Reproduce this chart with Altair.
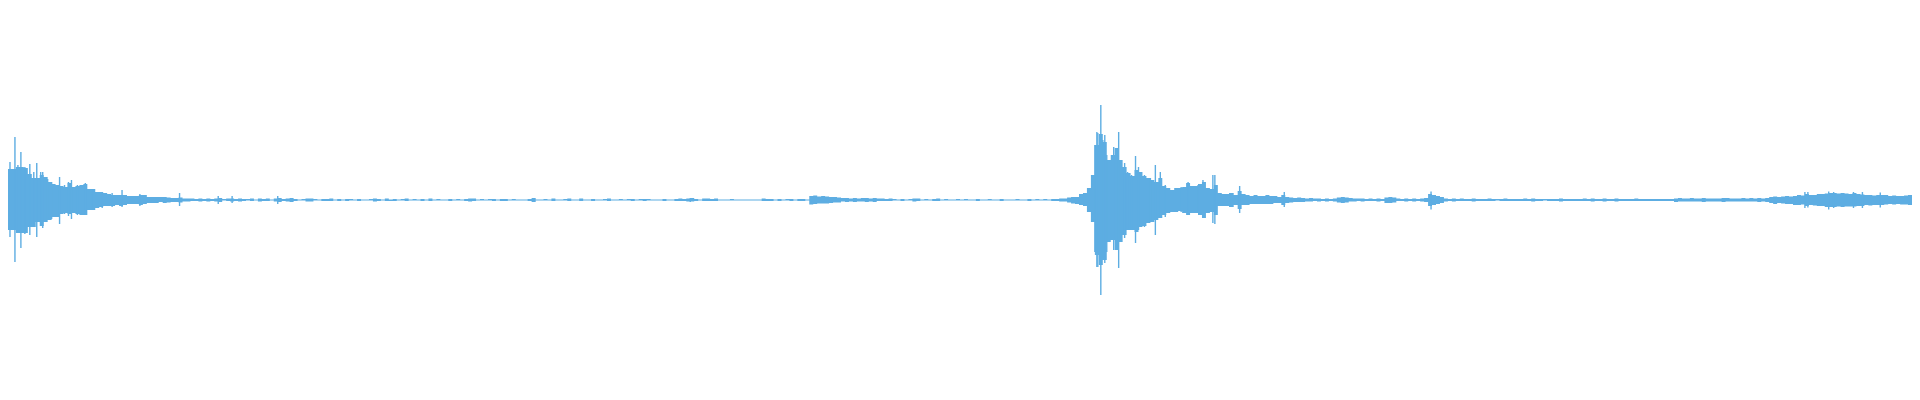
import altair as alt
import pandas as pd

# Waveform envelope: one value per block of 4 frames
# (amplitude units: 200 = full scale)
BLOCK = 4

top_amp = [
    # 0-80
    31, 31, 33, 33, 32, 26, 22, 22, 25, 23, 18, 16, 15, 14, 13, 17, 13, 14, 15, 16,
    # 80-160
    11, 11, 8, 8, 7, 6, 5, 5, 5, 5, 4, 4, 4, 5, 5, 3, 3, 3, 3, 3,
    # 160-240
    2.5, 2, 2, 2.5, 1.5, 1.5, 1.5, 1, 1.5, 1, 1.5, 1, 1.5, 2, 1, 1.5, 1.5, 1, 1.5, 1,
    # 240-320
    1, 1.5, 0.5, 1.5, 1, 1.5, 0.5, 1.5, 2, 1, 1.5, 2, 1, 0.5, 1, 1.5, 1.5, 1, 0.5, 1,
    # 320-400
    1, 1.5, 0.5, 1, 0.5, 1, 1, 0.5, 1, 0.5, 0.5, 1, 1.5, 1, 0.5, 1.5, 0.5, 1, 0.5, 1,
    # 400-480
    1.5, 0.5, 1, 0.5, 1, 0.5, 1.5, 0.5, 1, 0.5, 0.5, 1, 0.5, 1, 0.5, 1, 1.5, 1.5, 0.5, 1,
    # 480-560
    0.5, 1, 1, 0.5, 1, 1, 0.5, 1, 0.5, 0.5, 0.5, 1, 2, 0.5, 0.5, 1, 0.5, 1.5, 0.5, 0.5,
    # 560-640
    1, 1.5, 0.5, 0.5, 1.5, 0.5, 0.5, 1, 0.5, 0.5, 1, 1.5, 0.5, 0.5, 1, 0.5, 1, 1, 0.5, 1,
    # 640-720
    1, 1, 0.5, 0.5, 0.5, 1, 0.5, 0.5, 1, 1.5, 1, 1.5, 2, 1, 0.5, 1.5, 1.5, 1, 1.5, 0.5,
    # 720-800
    0.5, 0.5, 1, 0.5, 0.5, 0.5, 0.5, 0.5, 0.5, 0.5, 1.5, 1, 1, 0.5, 1, 0.5, 1, 1, 0.5, 1,
    # 800-880
    1, 0.5, 4, 4.5, 3.5, 4, 3.5, 3, 3, 2.5, 2, 2, 1.5, 2, 1.5, 2, 2, 1.5, 2, 1.5,
    # 880-960
    1.5, 1, 1.5, 1, 0.5, 1, 0.5, 1, 1.5, 1.5, 0.5, 1, 0.5, 1, 1.5, 0.5, 1, 0.5, 0.5, 1,
    # 960-1040
    0.5, 1, 0.5, 0.5, 1, 0.5, 0.5, 1, 0.5, 0.5, 1, 0.5, 0.5, 0.5, 1, 0.5, 0.5, 1, 0.5, 1,
    # 1040-1120
    0.5, 1, 0.5, 1, 1, 1.5, 1.5, 2.5, 3, 3, 6, 7, 12, 25, 55, 66, 58, 40, 45, 52,
    # 1120-1200
    40, 33, 27, 24, 30, 28, 24, 22, 20, 18, 22, 14, 12, 10, 12, 12, 13, 17, 14, 14,
    # 1200-1280
    16, 18, 12, 11, 15, 7, 6, 6, 7, 5, 9, 6, 5, 4, 5, 4, 4, 5, 4, 4,
    # 1280-1360
    3, 5, 3, 2.5, 2, 2.5, 2, 1.5, 2, 1.5, 1.5, 1, 1.5, 1, 1.5, 2.5, 3, 2.5, 2, 1.5,
    # 1360-1440
    1.5, 1.5, 1, 1.5, 1, 1.5, 1, 2.5, 3, 2.5, 1.5, 1, 1.5, 1, 1.5, 1, 1.5, 2, 6, 5,
    # 1440-1520
    4, 3, 1.5, 1, 1.5, 1, 1.5, 1, 1, 1.5, 1, 1, 1, 1.5, 1, 1, 1, 1.5, 1, 1,
    # 1520-1600
    1, 1, 1.5, 1, 1.5, 1, 1, 1, 1, 1, 1, 1.5, 1, 1, 1, 1, 1, 1.5, 1, 1.5,
    # 1600-1680
    1, 1, 1.5, 1, 1, 1.5, 1, 1, 1, 1, 1.5, 1, 1, 1, 1, 1, 1, 1, 1, 1,
    # 1680-1760
    1.5, 2, 1.5, 1.5, 2, 1.5, 1.5, 2, 1.5, 1.5, 1.5, 1.5, 2, 2, 1.5, 1.5, 1.5, 2, 1.5, 2,
    # 1760-1840
    1.5, 2, 1.5, 2, 3, 3.5, 3, 3.5, 4, 3.5, 4, 5, 4.5, 6, 5, 5, 6, 6, 6.5, 7,
    # 1840-1920
    7, 6.5, 7, 6.5, 6, 7, 6, 5.5, 5, 5, 4.5, 5, 5, 5, 4, 4.5, 4, 4, 4.5, 5,
]

bottom_amp = [
    # 0-80
    30, 30, 33, 33, 33, 27, 27, 22, 26, 22, 20, 17, 17, 14, 13, 14, 13, 14, 15, 15,
    # 80-160
    10, 10, 8, 7, 6, 6, 6, 5, 6, 5, 4, 4, 4, 5, 4, 3, 3, 3, 2, 3,
    # 160-240
    2.5, 2, 2, 2.5, 1.5, 1.5, 1, 1, 1.5, 1, 1.5, 1, 1.5, 2, 0.5, 1, 1.5, 1, 1.5, 1,
    # 240-320
    0.5, 1, 0.5, 1.5, 1, 1, 0.5, 1.5, 2, 1, 1.5, 2, 1, 0.5, 0.5, 1.5, 1.5, 0.5, 0.5, 1,
    # 320-400
    1, 1, 0.5, 1, 0.5, 1, 0.5, 0.5, 1, 0.5, 0.5, 0.5, 1.5, 1, 0.5, 1, 1, 1, 0.5, 0.5,
    # 400-480
    1, 0.5, 0.5, 0.5, 1, 0.5, 1, 0.5, 0.5, 0.5, 0.5, 1, 0.5, 0.5, 0.5, 1, 1.5, 1, 0.5, 0.5,
    # 480-560
    0.5, 0.5, 1, 0.5, 1, 1, 0.5, 0.5, 0.5, 0.5, 0.5, 1, 2, 0.5, 0.5, 0.5, 0.5, 1, 0.5, 0.5,
    # 560-640
    0.5, 1, 0.5, 0.5, 1, 0.5, 0.5, 1, 0.5, 0.5, 0.5, 1, 0.5, 0.5, 0.5, 0.5, 0.5, 1, 0.5, 0.5,
    # 640-720
    1, 0.5, 0.5, 0.5, 0.5, 1, 0.5, 0.5, 1, 1, 1, 1.5, 1.5, 1, 0.5, 1, 1, 1, 1, 0.5,
    # 720-800
    0.5, 0.5, 0.5, 0.5, 0.5, 0.5, 0.5, 0.5, 0.5, 0.5, 1, 1, 1, 0.5, 1, 0.5, 0.5, 1, 0.5, 1,
    # 800-880
    1, 0.5, 4.5, 4, 3.5, 3.5, 3.5, 3, 2.5, 2.5, 1.5, 2, 1.5, 2, 1.5, 1.5, 2, 1.5, 2, 1,
    # 880-960
    1, 1, 1, 0.5, 0.5, 1, 0.5, 0.5, 1.5, 1, 0.5, 0.5, 0.5, 1, 1, 0.5, 0.5, 0.5, 0.5, 0.5,
    # 960-1040
    0.5, 0.5, 0.5, 0.5, 1, 0.5, 0.5, 0.5, 0.5, 0.5, 1, 0.5, 0.5, 0.5, 0.5, 0.5, 0.5, 1, 0.5, 0.5,
    # 1040-1120
    0.5, 0.5, 0.5, 1, 1, 1.5, 1.5, 2.5, 3.5, 4, 5, 6, 12, 22, 55, 65, 60, 42, 40, 50,
    # 1120-1200
    42, 35, 30, 30, 32, 27, 26, 23, 22, 20, 18, 15, 13, 12, 12, 11, 13, 15, 13, 13,
    # 1200-1280
    15, 18, 13, 12, 15, 6, 6, 6, 7, 5, 9, 5, 5, 4, 4, 4, 4, 4, 4, 3,
    # 1280-1360
    3, 5, 3, 2.5, 2, 2, 2, 1.5, 1.5, 1, 1.5, 1, 1.5, 1, 1.5, 2.5, 3, 2.5, 1.5, 1.5,
    # 1360-1440
    1, 1.5, 1, 1, 1, 1.5, 1, 3, 3, 2.5, 1, 1, 1.5, 1, 1.5, 1, 1.5, 2, 6, 5,
    # 1440-1520
    4, 3, 1.5, 1, 1.5, 1, 1, 1, 1, 1.5, 1, 1, 1, 1, 1, 0.5, 1, 1, 1, 1,
    # 1520-1600
    1, 1, 1, 1, 1.5, 1, 1, 0.5, 1, 1, 1, 1.5, 1, 1, 1, 1, 1, 1, 1, 1.5,
    # 1600-1680
    1, 1, 1.5, 1, 1, 1.5, 1, 1, 1, 1, 1, 1, 1, 1, 1, 1, 1, 1, 1, 1,
    # 1680-1760
    2, 1.5, 1.5, 1.5, 1.5, 1.5, 1.5, 2, 1.5, 1.5, 1.5, 1.5, 2, 1.5, 1.5, 1.5, 1.5, 1.5, 1.5, 1.5,
    # 1760-1840
    1.5, 2, 1.5, 2, 3, 4, 3, 3.5, 4, 4, 5, 5, 4.5, 6, 5, 5.5, 6, 6, 7, 7,
    # 1840-1920
    7, 6.5, 7, 6.5, 6.5, 6.5, 6, 6, 5, 5.5, 5, 5, 5, 4.5, 4, 4.5, 4, 4.5, 4.5, 5,
]

# Single-frame peaks standing out of the envelope
spike_frame = [2, 7, 10, 13, 17, 22, 26, 29, 33, 35, 40, 44, 52, 57, 61, 64, 70, 78,
               85, 95, 105, 115, 133, 173, 212, 226, 272, 531, 688,
               1096, 1098, 1099, 1102, 1104, 1106, 1108, 1115, 1118, 1120, 1126,
               1129, 1133, 1137, 1140, 1146, 1152, 1157, 1162, 1167, 1183, 1190,
               1200, 1205, 1215, 1217, 1232, 1242, 1287, 1435,
               1812, 1815, 1836, 1841, 1861, 1870, 1888]
spike_top = [38, 63, 35, 48, 33, 36, 28, 37, 28, 28, 21, 18, 23, 15, 18, 20, 15, 17,
             11, 8, 7, 10, 6, 7, 4, 4, 4, 2, 2,
             55, 68, 67, 95, 60, 65, 45, 53, 52, 68, 37,
             28, 25, 44, 33, 25, 22, 35, 28, 15, 13, 18,
             15, 20, 25, 25, 7, 14, 8, 8.5,
             8, 8, 8.5, 8, 8, 8, 7.5]
spike_bottom = [37, 62, 33, 48, 34, 35, 27, 37, 26, 28, 20, 19, 24, 14, 16, 19, 15, 15,
                10, 8, 7, 7, 6, 6, 4, 3, 4, 2, 2,
                52, 67, 67, 95, 58, 63, 52, 50, 50, 68, 38,
                30, 30, 43, 30, 27, 22, 35, 18, 17, 12, 15,
                13, 18, 23, 24, 7, 13, 7, 9.5,
                8, 7.5, 9.5, 8, 8, 8, 7.5]

TOTAL_FRAMES = 1920
COLOR = "#5dade2"

n = min(len(top_amp), len(bottom_amp))
starts = [i * BLOCK for i in range(n)] + [n * BLOCK]
env = pd.DataFrame({
    "start": starts,
    "hi": top_amp[:n] + [top_amp[n - 1]],
    "lo": [-v for v in bottom_amp[:n]] + [-bottom_amp[n - 1]],
})
m = min(len(spike_frame), len(spike_top), len(spike_bottom))
spikes = pd.DataFrame({
    "frame": spike_frame[:m],
    "hi": spike_top[:m],
    "lo": [-v for v in spike_bottom[:m]],
})

xs = alt.Scale(domain=[0, TOTAL_FRAMES], nice=False, zero=False)
ys = alt.Scale(domain=[-192, 192], nice=False)

body = alt.Chart(env).mark_area(
    color=COLOR, interpolate="step-after", opacity=1
).encode(
    x=alt.X("start:Q", scale=xs, axis=None),
    y=alt.Y("hi:Q", scale=ys, axis=None),
    y2="lo:Q",
)

peaks = alt.Chart(spikes).mark_rule(color=COLOR, strokeWidth=1.4).encode(
    x=alt.X("frame:Q", scale=xs, axis=None),
    y=alt.Y("hi:Q", scale=ys, axis=None),
    y2="lo:Q",
)

chart = alt.layer(body, peaks).properties(
    width=1904,
    height=384,
    padding=0,
    autosize=alt.AutoSizeParams(type="fit", contains="padding"),
    background="white",
).configure_view(stroke=None)

chart.save("out.html", embed_options={"renderer": "svg", "actions": False})
